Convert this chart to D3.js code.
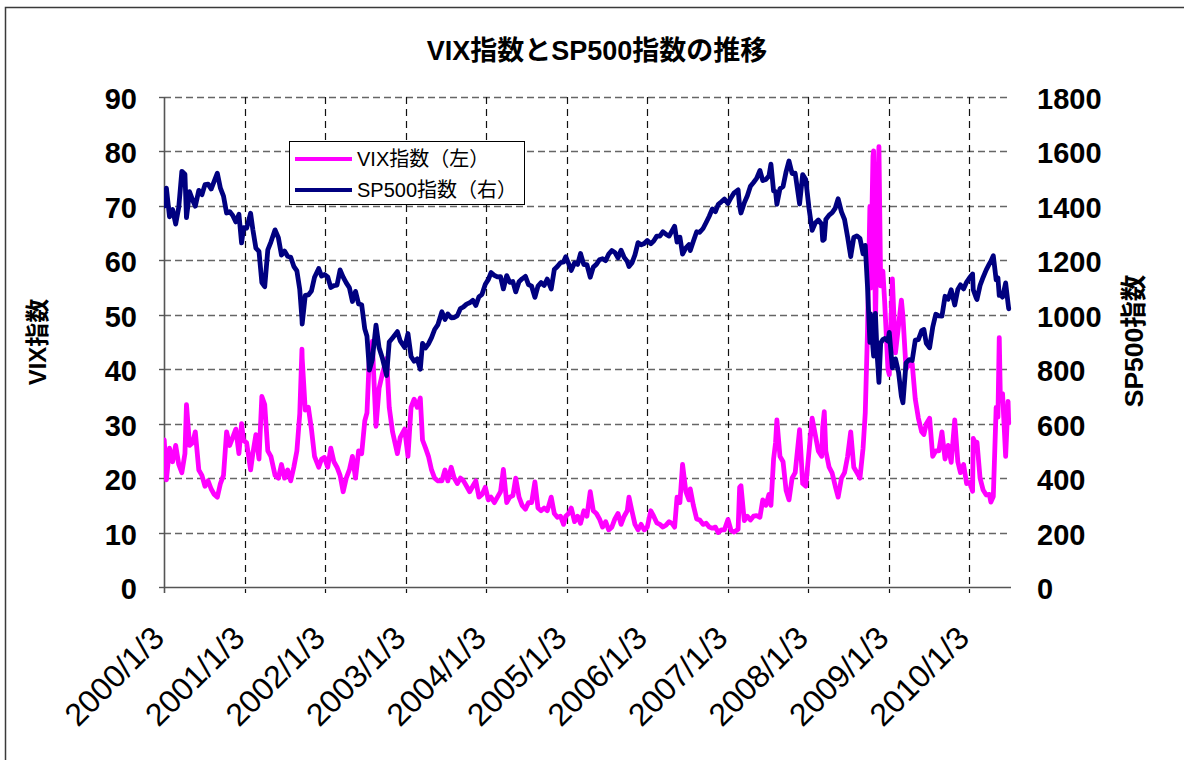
<!DOCTYPE html>
<html><head><meta charset="utf-8">
<script src="https://cdn.jsdelivr.net/npm/d3@7"></script>
<style>
html,body{margin:0;padding:0;background:#fff;}
svg{display:block;}
</style>
</head><body>
<svg id="chart" width="1184" height="760"></svg>
<script>
// ---- data ----
const titleText = "VIX指数とSP500指数の推移";
const leftTitle = "VIX指数";
const rightTitle = "SP500指数";
const legendLabels = ["VIX指数（左）", "SP500指数（右）"];
const xTickDates = ["2000-01-03","2001-01-03","2002-01-03","2003-01-03","2004-01-03","2005-01-03","2006-01-03","2007-01-03","2008-01-03","2009-01-03","2010-01-03"];
const xTickLabels = ["2000/1/3","2001/1/3","2002/1/3","2003/1/3","2004/1/3","2005/1/3","2006/1/3","2007/1/3","2008/1/3","2009/1/3","2010/1/3"];
const leftTicks = [0,10,20,30,40,50,60,70,80,90];
const rightTicks = [0,200,400,600,800,1000,1200,1400,1600,1800];

const dates = [
"2000-01-03","2000-01-04","2000-01-14","2000-01-28","2000-02-11","2000-02-25","2000-03-10","2000-03-24","2000-04-07","2000-04-14","2000-04-28","2000-05-12","2000-05-24","2000-06-09","2000-06-23","2000-07-07","2000-07-21","2000-08-04","2000-08-18","2000-09-01","2000-09-15","2000-09-29","2000-10-13","2000-10-27","2000-11-10","2000-11-24","2000-12-08","2000-12-20","2000-12-29",
"2001-01-12","2001-01-30","2001-02-09","2001-02-23","2001-03-09","2001-03-22","2001-04-04","2001-04-18","2001-05-02","2001-05-21","2001-06-05","2001-06-19","2001-07-03","2001-07-17","2001-07-31","2001-08-14","2001-08-28","2001-09-10","2001-09-20","2001-09-21","2001-10-05","2001-10-19","2001-11-02","2001-11-16","2001-12-05","2001-12-18","2001-12-31",
"2002-01-15","2002-01-29","2002-02-12","2002-02-26","2002-03-12","2002-03-26","2002-04-09","2002-04-23","2002-05-07","2002-05-21","2002-06-04","2002-06-18","2002-07-02","2002-07-12","2002-07-23","2002-08-05","2002-08-22","2002-09-05","2002-09-19","2002-10-09","2002-10-21","2002-11-05","2002-11-27","2002-12-10","2002-12-30",
"2003-01-14","2003-01-28","2003-02-11","2003-02-25","2003-03-11","2003-03-21","2003-04-04","2003-04-17","2003-05-01","2003-05-15","2003-05-30","2003-06-17","2003-07-01","2003-07-14","2003-07-29","2003-08-12","2003-08-26","2003-09-09","2003-09-23","2003-10-07","2003-10-21","2003-11-04","2003-11-18","2003-12-02","2003-12-16","2003-12-31",
"2004-01-14","2004-01-26","2004-02-10","2004-02-24","2004-03-09","2004-03-22","2004-04-06","2004-04-20","2004-05-04","2004-05-17","2004-06-01","2004-06-15","2004-06-30","2004-07-14","2004-07-28","2004-08-12","2004-08-26","2004-09-09","2004-09-23","2004-10-07","2004-10-25","2004-11-08","2004-11-22","2004-12-06","2004-12-20","2004-12-30",
"2005-01-12","2005-01-24","2005-02-08","2005-02-22","2005-03-07","2005-03-22","2005-04-05","2005-04-20","2005-05-04","2005-05-18","2005-06-01","2005-06-15","2005-06-29","2005-07-13","2005-07-27","2005-08-10","2005-08-24","2005-09-07","2005-09-21","2005-10-05","2005-10-13","2005-10-26","2005-11-09","2005-11-23","2005-12-07","2005-12-21",
"2006-01-04","2006-01-20","2006-02-02","2006-02-16","2006-03-02","2006-03-16","2006-03-31","2006-04-13","2006-04-28","2006-05-08","2006-05-19","2006-06-01","2006-06-13","2006-06-28","2006-07-12","2006-07-18","2006-08-01","2006-08-16","2006-08-30","2006-09-14","2006-09-28","2006-10-12","2006-10-26","2006-11-09","2006-11-22","2006-12-06","2006-12-20",
"2007-01-05","2007-01-19","2007-02-02","2007-02-20","2007-02-27","2007-03-05","2007-03-20","2007-04-03","2007-04-17","2007-05-01","2007-05-15","2007-05-30","2007-06-12","2007-06-26","2007-07-10","2007-07-19","2007-07-31","2007-08-09","2007-08-15","2007-08-29","2007-09-12","2007-09-26","2007-10-09","2007-10-23","2007-11-06","2007-11-26","2007-12-10","2007-12-24",
"2008-01-08","2008-01-22","2008-02-05","2008-02-19","2008-03-05","2008-03-10","2008-03-17","2008-03-24","2008-04-08","2008-04-22","2008-05-06","2008-05-19","2008-06-03","2008-06-17","2008-07-01","2008-07-15","2008-07-29","2008-08-12","2008-08-26","2008-09-09","2008-09-19","2008-09-29","2008-10-10","2008-10-13","2008-10-24","2008-10-27","2008-11-04","2008-11-12","2008-11-20","2008-11-28","2008-12-08","2008-12-16","2008-12-31",
"2009-01-06","2009-01-20","2009-02-03","2009-02-17","2009-03-02","2009-03-09","2009-03-23","2009-04-06","2009-04-20","2009-05-04","2009-05-18","2009-06-02","2009-06-12","2009-06-23","2009-07-08","2009-07-22","2009-08-05","2009-08-19","2009-09-02","2009-09-16","2009-09-30","2009-10-14","2009-10-30","2009-11-13","2009-11-25","2009-12-09","2009-12-23",
"2010-01-06","2010-01-19","2010-01-22","2010-02-04","2010-02-08","2010-02-22","2010-03-08","2010-03-22","2010-04-05","2010-04-12","2010-04-23","2010-05-06","2010-05-14","2010-05-20","2010-05-25","2010-06-04","2010-06-18","2010-06-29","2010-07-02"
];

const sp500 = [
1455,1399,1465,1360,1387,1333,1395,1527,1516,1357,1452,1421,1399,1457,1441,1478,1480,1462,1491,1520,1465,1436,1374,1379,1365,1341,1369,1264,1320,
1318,1373,1314,1245,1233,1118,1103,1238,1267,1312,1283,1219,1234,1215,1211,1178,1161,1093,985,966,1071,1073,1087,1138,1170,1142,1148,
1139,1100,1107,1109,1165,1138,1117,1100,1049,1086,1040,1037,948,921,797,834,962,879,843,777,900,915,938,904,880,
931,847,829,838,800,895,878,893,916,946,964,1011,983,1003,989,990,997,1023,1029,1039,1044,1053,1034,1066,1075,1112,
1130,1155,1145,1139,1140,1095,1144,1119,1122,1084,1121,1132,1141,1111,1105,1064,1105,1118,1108,1131,1095,1166,1177,1191,1194,1213,
1188,1163,1191,1185,1225,1184,1184,1138,1175,1185,1202,1206,1199,1223,1236,1229,1209,1237,1211,1196,1177,1190,1220,1265,1257,1262,
1273,1261,1271,1289,1289,1305,1295,1289,1311,1325,1267,1285,1223,1246,1258,1236,1270,1305,1303,1317,1339,1362,1389,1379,1406,1415,1425,
1409,1430,1448,1459,1399,1374,1411,1437,1472,1486,1501,1530,1493,1497,1510,1553,1455,1453,1406,1463,1471,1526,1565,1519,1520,1407,1515,1497,
1390,1310,1337,1348,1333,1273,1277,1350,1366,1375,1392,1426,1378,1350,1285,1214,1284,1290,1281,1224,1255,1106,899,1003,877,848,1005,852,752,896,909,913,903,
935,805,838,789,700,677,823,835,832,907,909,942,946,895,879,954,1002,996,995,1068,1057,1092,1036,1093,1110,1095,1120,
1137,1150,1092,1063,1056,1108,1138,1165,1187,1197,1217,1128,1136,1071,1074,1065,1117,1041,1022
];

const vix = [
24.2,27.0,19.7,25.5,23.0,26.0,22.5,21.0,24.5,33.5,26.0,26.5,28.5,21.5,20.5,18.5,19.5,18.0,17.0,16.5,19.0,20.5,28.5,26.0,27.5,29.0,24.5,30.0,26.9,
26.5,21.5,24.5,28.0,23.5,35.0,33.5,25.0,24.0,20.5,20.0,22.5,20.0,21.5,19.5,22.0,25.0,31.8,43.7,42.0,32.5,33.0,29.0,24.0,22.0,23.5,23.8,
22.0,25.5,23.0,22.0,20.5,17.5,20.0,21.5,24.0,20.0,25.0,24.5,30.5,32.0,42.5,45.1,29.5,36.5,39.0,42.0,33.0,28.5,24.5,27.5,29.0,
24.0,33.0,34.5,33.0,34.7,27.0,25.5,24.0,21.5,20.0,19.5,19.5,21.5,19.5,22.0,20.0,19.0,20.0,19.5,18.5,17.5,18.5,19.5,16.5,17.0,18.3,
16.0,16.5,15.5,16.5,17.5,21.6,15.5,16.5,16.8,20.0,16.5,15.0,14.3,15.5,15.5,19.3,14.5,14.0,14.5,14.0,16.5,13.5,12.8,13.0,11.5,13.0,
13.5,14.5,12.0,13.0,11.7,14.0,13.0,17.5,14.0,13.5,12.5,11.0,12.0,10.5,11.0,12.5,13.5,11.5,13.0,14.0,16.5,14.0,11.5,10.5,11.5,10.5,
11.0,14.0,13.0,11.8,11.5,11.0,11.4,12.0,11.6,11.0,16.5,15.5,22.5,17.5,16.0,18.0,15.0,12.5,12.3,11.5,11.7,11.0,10.8,11.0,10.0,10.5,10.5,
12.4,10.4,10.1,10.6,18.3,18.6,12.2,13.0,12.3,13.0,13.1,12.8,16.0,15.0,17.0,15.0,23.5,26.5,30.7,24.0,23.0,17.7,16.0,20.0,21.0,28.9,19.0,18.5,
25.0,31.0,28.0,25.0,24.0,29.4,32.2,25.0,22.0,20.9,18.5,16.5,20.0,21.0,24.0,28.5,22.0,21.0,20.0,25.5,32.0,46.7,69.9,54.9,79.1,80.1,47.7,66.5,80.9,55.3,58.0,52.4,40.0,
39.0,56.6,43.0,48.0,52.7,49.7,40.0,40.9,41.0,34.5,31.0,28.5,28.0,30.0,31.0,24.0,25.0,25.0,28.5,23.5,26.0,22.9,30.7,23.0,21.0,22.5,19.0,
19.2,17.6,27.3,26.1,26.6,20.0,17.8,16.9,17.0,15.6,16.6,33.0,31.2,45.8,34.6,35.5,24.0,34.1,30.1
];

// ---- layout ----
const plot = {left:164, right:1011, top:97, bottom:587};
const yearPx = 80.5;
const parse = d3.timeParse("%Y-%m-%d");
const data = dates.map((d,i)=>({date:parse(d), vix:vix[i], sp:sp500[i]}));

const x = d3.scaleTime()
  .domain([parse("2000-01-03"), parse("2011-01-03")])
  .range([plot.left, plot.left + 11*yearPx]);
const yL = d3.scaleLinear().domain([0,90]).range([plot.bottom, plot.top]);
const yR = d3.scaleLinear().domain([0,1800]).range([plot.bottom, plot.top]);

const svg = d3.select("#chart");
const latin = "'Liberation Sans', Arial, 'Noto Sans CJK JP', sans-serif";

// outer frame
svg.append("rect").attr("x",5.5).attr("y",7.5).attr("width",1300).attr("height",900)
  .attr("fill","none").attr("stroke","#3a3a3a").attr("stroke-width",1.5);

// title
svg.append("text").attr("x",597).attr("y",60).attr("text-anchor","middle")
  .attr("font-family",latin).attr("font-weight","bold").attr("font-size",27)
  .attr("fill","#000").text(titleText);

// horizontal gridlines
svg.append("g").selectAll("line").data(leftTicks.filter(v=>v>0)).join("line")
  .attr("x1",plot.left).attr("x2",plot.right)
  .attr("y1",d=>Math.round(yL(d))+0.5).attr("y2",d=>Math.round(yL(d))+0.5)
  .attr("stroke","#666").attr("stroke-width",1.6).attr("stroke-dasharray","7,4");

// vertical gridlines
const tickDates = xTickDates.map(parse);
svg.append("g").selectAll("line").data(tickDates.slice(1)).join("line")
  .attr("x1",d=>Math.round(x(d))+0.5).attr("x2",d=>Math.round(x(d))+0.5)
  .attr("y1",plot.top).attr("y2",plot.bottom+6)
  .attr("stroke","#111").attr("stroke-width",1.2).attr("stroke-dasharray","7,5");

// axes lines
svg.append("line").attr("x1",plot.left+0.5).attr("x2",plot.left+0.5)
  .attr("y1",plot.top).attr("y2",plot.bottom+6).attr("stroke","#555").attr("stroke-width",1.6);
svg.append("line").attr("x1",plot.left).attr("x2",plot.right)
  .attr("y1",plot.bottom+0.5).attr("y2",plot.bottom+0.5).attr("stroke","#555").attr("stroke-width",1.6);
svg.append("g").selectAll("line").data(leftTicks).join("line")
  .attr("x1",plot.left-5).attr("x2",plot.left)
  .attr("y1",d=>Math.round(yL(d))+0.5).attr("y2",d=>Math.round(yL(d))+0.5)
  .attr("stroke","#555").attr("stroke-width",1.4);

// tick labels
svg.append("g").selectAll("text").data(leftTicks).join("text")
  .attr("x",137).attr("y",d=>yL(d)+12).attr("text-anchor","end")
  .attr("font-family",latin).attr("font-weight","bold").attr("font-size",29)
  .text(d=>d);
svg.append("g").selectAll("text").data(rightTicks).join("text")
  .attr("x",1037).attr("y",d=>yR(d)+12).attr("text-anchor","start")
  .attr("font-family",latin).attr("font-weight","bold").attr("font-size",29)
  .text(d=>d);

// x labels
svg.append("g").selectAll("text").data(tickDates).join("text")
  .attr("transform",d=>`translate(${x(d)+2},640) rotate(-45)`)
  .attr("text-anchor","end")
  .attr("font-family",latin).attr("font-size",32)
  .text((d,i)=>xTickLabels[i]);

// axis titles
svg.append("text").attr("transform","translate(46,342) rotate(-90)").attr("text-anchor","middle")
  .attr("font-family",latin).attr("font-weight","bold").attr("font-size",24).text(leftTitle);
svg.append("text").attr("transform","translate(1143,341) rotate(-90)").attr("text-anchor","middle")
  .attr("font-family",latin).attr("font-weight","bold").attr("font-size",26.5).text(rightTitle);

// clip
svg.append("clipPath").attr("id","clip").append("rect")
  .attr("x",plot.left).attr("y",plot.top-10).attr("width",plot.right-plot.left+2).attr("height",plot.bottom-plot.top+10);

const lineV = d3.line().x(d=>x(d.date)).y(d=>yL(d.vix));
const lineS = d3.line().x(d=>x(d.date)).y(d=>yR(d.sp));
const g = svg.append("g").attr("clip-path","url(#clip)");
g.append("path").datum(data).attr("d",lineV).attr("fill","none")
  .attr("stroke","#FF00FF").attr("stroke-width",4.8).attr("stroke-linejoin","round").attr("stroke-linecap","round");
g.append("path").datum(data).attr("d",lineS).attr("fill","none")
  .attr("stroke","#000080").attr("stroke-width",4.8).attr("stroke-linejoin","round").attr("stroke-linecap","round");

// legend
const lg = svg.append("g");
lg.append("rect").attr("x",289.5).attr("y",141.5).attr("width",235).attr("height",63)
  .attr("fill","#fff").attr("stroke","#000").attr("stroke-width",1);
const lcols = ["#FF00FF","#000080"];
[159,190].forEach((yy,i)=>{
  lg.append("line").attr("x1",295).attr("x2",352).attr("y1",yy).attr("y2",yy)
    .attr("stroke",lcols[i]).attr("stroke-width",4);
  lg.append("text").attr("x",357).attr("y",yy+7).attr("font-family",latin)
    .attr("font-size",20).attr("fill","#000").text(legendLabels[i]);
});
</script>
</body></html>
